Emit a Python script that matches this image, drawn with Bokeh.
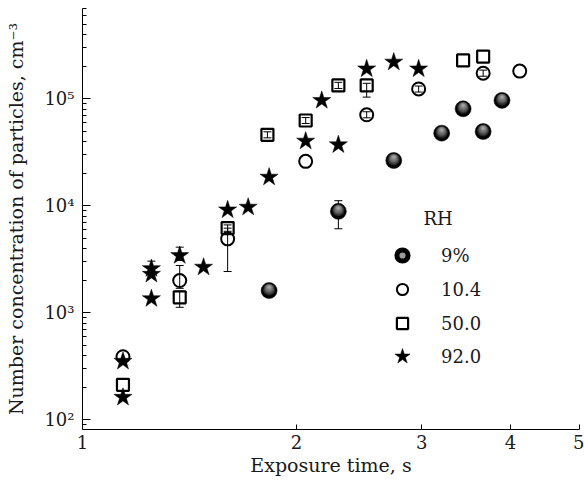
from bokeh.plotting import figure
from bokeh.models import (Range1d, FixedTicker, Legend, LegendItem, Label,
                          Whisker, ColumnDataSource, TeeHead)
from bokeh.embed import file_html
from bokeh.resources import INLINE
import math

# ---------------- data ----------------
# RH 9 %  (shaded spheres)
rh9_t = [1.83, 2.29, 2.74, 3.20, 3.43, 3.66, 3.89]
rh9_n = [1620, 8900, 26600, 47900, 80900, 49600, 96900]
# RH 10.4 (open circles)
rh104_t = [1.14, 1.37, 1.60, 2.06, 2.51, 2.97, 3.66, 4.12]
rh104_n = [390, 2010, 4930, 26100, 71100, 124000, 174000, 182000]
# RH 50.0 (open squares)
rh50_t = [1.14, 1.37, 1.60, 1.82, 2.06, 2.29, 2.51, 3.43, 3.66]
rh50_n = [213, 1400, 6210, 46200, 62900, 133700, 133700, 229000, 249000]
# RH 92.0 (stars)
rh92_t = [1.14, 1.14, 1.25, 1.25, 1.25, 1.37, 1.48, 1.60, 1.71, 1.83,
          2.06, 2.17, 2.29, 2.51, 2.74, 2.97]
rh92_n = [354, 163, 2600, 2300, 1360, 3440, 2680, 9200, 9750, 18600,
          40400, 96900, 37300, 191000, 221000, 191000]
# error bars
err_t = [1.25, 1.37, 1.37, 1.37, 1.60, 1.60, 1.82, 2.06, 2.29, 2.29,
         2.51, 2.51, 2.97, 3.66]
err_lo = [2300, 3100, 1700, 1130, 2440, 5800, 43300, 59000, 6120, 125000,
          104000, 66600, 116000, 163000]
err_hi = [3050, 4120, 2780, 1600, 6200, 6650, 49300, 67000, 11200, 143000,
          140000, 75900, 132000, 186000]

legend_title = "RH"
legend_labels = ["9%", "10.4", "50.0", "92.0"]
x_ticks = [1, 2, 3, 4, 5]
x_tick_labels = ["1", "2", "3", "4", "5"]
y_ticks = [1e2, 1e3, 1e4, 1e5]
y_tick_labels = ["10\u00b2", "10\u00b3", "10\u2074", "10\u2075"]
x_title = "Exposure time, s"
y_title = "Number concentration of particles, cm\u207b\u00b3"

# ---------------- layout ----------------
W, H = 584, 484
BL, BR, BT, BB = 82, 5, 8, 55
X0, X1 = 1.0, 5.0
Y0, Y1 = 81.5, 7.0e5
FONT = "DejaVu Serif"
TXT = "#1a1a1a"
FS_TITLE = "19px"
FS = "18px"

p = figure(width=W, height=H, x_axis_type="log", y_axis_type="log",
           x_range=Range1d(X0, X1), y_range=Range1d(Y0, Y1),
           output_backend="svg", toolbar_location=None,
           min_border_left=BL, min_border_right=BR,
           min_border_top=BT, min_border_bottom=BB)
p.outline_line_color = None
p.xgrid.visible = False
p.ygrid.visible = False

frame_h = H - BT - BB
px_per_dec_y = frame_h / (math.log10(Y1) - math.log10(Y0))

for ax in (p.xaxis[0], p.yaxis[0]):
    ax.axis_line_color = "black"
    ax.axis_line_width = 1
    ax.major_tick_line_color = "black"
    ax.minor_tick_line_color = "black"
    ax.major_tick_out = 0
    ax.minor_tick_out = 0
    ax.major_label_text_font = FONT
    ax.major_label_text_font_size = FS
    ax.major_label_text_color = TXT
    ax.axis_label_text_font = FONT
    ax.axis_label_text_font_size = FS_TITLE
    ax.axis_label_text_font_style = "normal"
    ax.axis_label_text_color = TXT

xa = p.xaxis[0]
xa.ticker = FixedTicker(ticks=x_ticks, minor_ticks=[])
xa.major_label_overrides = {float(t): l for t, l in zip(x_ticks, x_tick_labels)}
xa.major_tick_in = 5
xa.major_label_standoff = 5
xa.axis_label = x_title
xa.axis_label_standoff = 2

ya = p.yaxis[0]
minor = [m * 10 ** e for e in range(1, 6) for m in range(2, 10)
         if Y0 <= m * 10 ** e <= Y1]
ya.ticker = FixedTicker(ticks=y_ticks, minor_ticks=minor)
ya.major_label_overrides = {float(t): l for t, l in zip(y_ticks, y_tick_labels)}
ya.major_tick_in = 8
ya.minor_tick_in = 4
ya.major_label_standoff = 8
ya.axis_label = y_title
ya.axis_label_standoff = 14

# ---------------- error bars ----------------
esrc = ColumnDataSource(dict(t=err_t, lo=err_lo, hi=err_hi))
p.add_layout(Whisker(source=esrc, base="t", lower="lo", upper="hi",
                     dimension="height", line_color="black", line_width=1,
                     upper_head=TeeHead(size=8, line_color="black", line_width=1),
                     lower_head=TeeHead(size=8, line_color="black", line_width=1)))

# ---------------- shaded spheres (9 %) ----------------
r9 = p.scatter(rh9_t, rh9_n, marker="circle", size=16, fill_color="black",
               line_color="black", line_width=0.5)
shade = [(12, 1.0), (10, 1.6), (8, 2.2), (6, 2.8), (4, 3.2), (2.5, 3.4)]
for s, dy in shade:
    f = 10 ** (dy / px_per_dec_y)
    p.scatter(rh9_t, [v * f for v in rh9_n], marker="circle", size=s,
              fill_color="white", fill_alpha=0.16, line_color=None)

r104 = p.scatter(rh104_t, rh104_n, marker="circle", size=13, fill_color=None,
                 line_color="black", line_width=2)
r50 = p.scatter(rh50_t, rh50_n, marker="square", size=12, fill_color=None,
                line_color="black", line_width=2.2)
r92 = p.scatter(rh92_t, rh92_n, marker="star", size=19, fill_color="black",
                line_color="black", line_width=0.5)

# legend-only sphere glyph
rl9 = p.scatter(rh9_t, rh9_n, marker="circle", size=16, fill_color="#9a9a9a",
                line_color="black", line_width=5, visible=False)

# ---------------- legend ----------------
LEG_CX = 320          # glyph centre, px from frame left
LAB_DX = 39           # label left minus glyph centre
rows = [(rl9, 28, 174), (r104, 28, 140), (r50, 28, 106), (r92, 40, 73)]
for (rend, g, cy), lab in zip(rows, legend_labels):
    lg = Legend(items=[LegendItem(label=lab, renderers=[rend])],
                location=(LEG_CX - g // 2, cy - g // 2),
                glyph_width=g, glyph_height=g, label_height=g,
                label_standoff=LAB_DX - g // 2, padding=0, margin=0,
                spacing=0, border_line_color=None, background_fill_alpha=0,
                label_text_font=FONT, label_text_font_size=FS,
                label_text_color=TXT)
    p.add_layout(lg)

p.add_layout(Label(x=LEG_CX + 21, y=211, x_units="screen", y_units="screen",
                   text=legend_title, text_font=FONT, text_font_size=FS,
                   text_color=TXT, text_baseline="middle", text_align="left"))

open("out.html", "w").write(file_html(p, INLINE))
